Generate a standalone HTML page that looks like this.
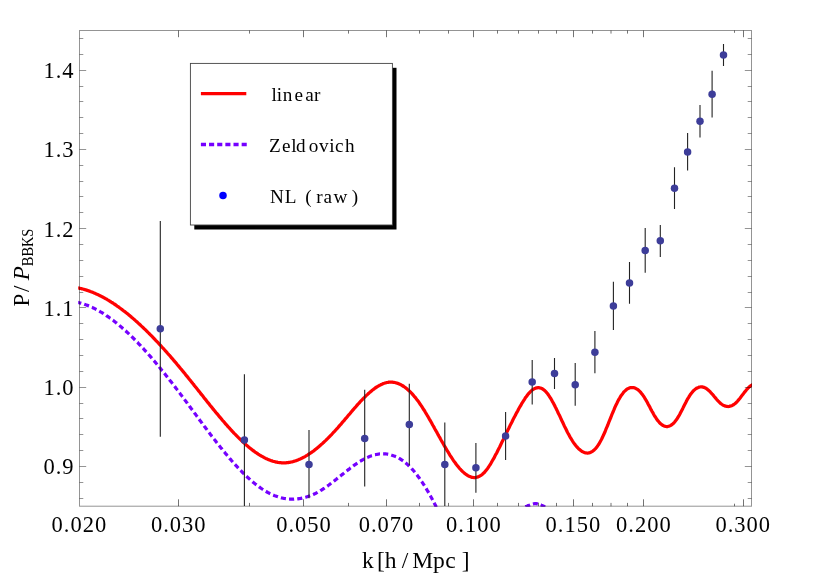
<!DOCTYPE html>
<html><head><meta charset="utf-8"><title>P/P_BBKS</title>
<style>
html,body{margin:0;padding:0;background:#fff;}
body{width:817px;height:580px;overflow:hidden;font-family:"Liberation Serif",serif;}
svg{display:block;will-change:transform;opacity:0.999;}
text{font-family:"Liberation Serif",serif;fill:#000;}
</style></head><body>
<svg width="817" height="580" viewBox="0 0 817 580">
<rect x="0" y="0" width="817" height="580" fill="#fff"/>
<defs><clipPath id="cp"><rect x="78.2" y="29.8" width="673.8" height="476.9"/></clipPath></defs>

<g clip-path="url(#cp)" fill="none">
<path d="M77.5,287.8 L78.2,288.0 L79.0,288.1 L79.8,288.3 L80.5,288.5 L81.2,288.6 L82.0,288.8 L82.8,289.0 L83.5,289.2 L84.2,289.4 L85.0,289.7 L85.8,289.9 L86.5,290.1 L87.2,290.4 L88.0,290.6 L88.8,290.9 L89.5,291.1 L90.2,291.4 L91.0,291.7 L91.8,292.0 L92.5,292.3 L93.2,292.6 L94.0,292.9 L94.8,293.2 L95.5,293.6 L96.2,293.9 L97.0,294.2 L97.8,294.6 L98.5,294.9 L99.2,295.3 L100.0,295.7 L100.8,296.1 L101.5,296.4 L102.2,296.8 L103.0,297.2 L103.8,297.6 L104.5,298.0 L105.2,298.5 L106.0,298.9 L106.8,299.3 L107.5,299.8 L108.2,300.2 L109.0,300.7 L109.8,301.1 L110.5,301.6 L111.2,302.1 L112.0,302.5 L112.8,303.0 L113.5,303.5 L114.2,304.0 L115.0,304.5 L115.8,305.0 L116.5,305.6 L117.2,306.1 L118.0,306.6 L118.8,307.1 L119.5,307.7 L120.2,308.2 L121.0,308.8 L121.8,309.3 L122.5,309.9 L123.2,310.5 L124.0,311.1 L124.8,311.6 L125.5,312.2 L126.2,312.8 L127.0,313.4 L127.8,314.0 L128.5,314.6 L129.2,315.3 L130.0,315.9 L130.8,316.5 L131.5,317.2 L132.2,317.8 L133.0,318.4 L133.8,319.1 L134.5,319.7 L135.2,320.4 L136.0,321.1 L136.8,321.7 L137.5,322.4 L138.2,323.1 L139.0,323.8 L139.8,324.5 L140.5,325.2 L141.2,325.9 L142.0,326.6 L142.8,327.3 L143.5,328.0 L144.2,328.7 L145.0,329.4 L145.8,330.2 L146.5,330.9 L147.2,331.6 L148.0,332.4 L148.8,333.1 L149.5,333.9 L150.2,334.6 L151.0,335.4 L151.8,336.2 L152.5,336.9 L153.2,337.7 L154.0,338.5 L154.8,339.3 L155.5,340.1 L156.2,340.8 L157.0,341.6 L157.8,342.4 L158.5,343.2 L159.2,344.1 L160.0,344.9 L160.8,345.7 L161.5,346.5 L162.2,347.3 L163.0,348.1 L163.8,349.0 L164.5,349.8 L165.2,350.6 L166.0,351.5 L166.8,352.3 L167.5,353.2 L168.2,354.0 L169.0,354.9 L169.8,355.7 L170.5,356.6 L171.2,357.5 L172.0,358.3 L172.8,359.2 L173.5,360.1 L174.2,360.9 L175.0,361.8 L175.8,362.7 L176.5,363.6 L177.2,364.5 L178.0,365.4 L178.8,366.3 L179.5,367.2 L180.2,368.1 L181.0,369.0 L181.8,369.9 L182.5,370.8 L183.2,371.7 L184.0,372.6 L184.8,373.5 L185.5,374.5 L186.2,375.4 L187.0,376.3 L187.8,377.2 L188.5,378.2 L189.2,379.1 L190.0,380.0 L190.8,381.0 L191.5,381.9 L192.2,382.8 L193.0,383.8 L193.8,384.7 L194.5,385.7 L195.2,386.6 L196.0,387.5 L196.8,388.5 L197.5,389.4 L198.2,390.4 L199.0,391.3 L199.8,392.3 L200.5,393.2 L201.2,394.2 L202.0,395.1 L202.8,396.1 L203.5,397.0 L204.2,397.9 L205.0,398.9 L205.8,399.8 L206.5,400.8 L207.2,401.7 L208.0,402.7 L208.8,403.6 L209.5,404.5 L210.2,405.5 L211.0,406.4 L211.8,407.3 L212.5,408.2 L213.2,409.2 L214.0,410.1 L214.8,411.0 L215.5,411.9 L216.2,412.8 L217.0,413.7 L217.8,414.6 L218.5,415.5 L219.2,416.4 L220.0,417.3 L220.8,418.2 L221.5,419.1 L222.2,420.0 L223.0,420.9 L223.8,421.7 L224.5,422.6 L225.2,423.5 L226.0,424.3 L226.8,425.2 L227.5,426.0 L228.2,426.9 L229.0,427.7 L229.8,428.5 L230.5,429.3 L231.2,430.2 L232.0,431.0 L232.8,431.8 L233.5,432.6 L234.2,433.4 L235.0,434.1 L235.8,434.9 L236.5,435.7 L237.2,436.4 L238.0,437.2 L238.8,437.9 L239.5,438.7 L240.2,439.4 L241.0,440.1 L241.8,440.9 L242.5,441.6 L243.2,442.3 L244.0,442.9 L244.8,443.6 L245.5,444.3 L246.2,444.9 L247.0,445.6 L247.8,446.2 L248.5,446.9 L249.2,447.5 L250.0,448.1 L250.8,448.7 L251.5,449.3 L252.2,449.9 L253.0,450.5 L253.8,451.0 L254.5,451.6 L255.2,452.1 L256.0,452.6 L256.8,453.1 L257.5,453.6 L258.2,454.1 L259.0,454.6 L259.8,455.1 L260.5,455.5 L261.2,456.0 L262.0,456.4 L262.8,456.8 L263.5,457.2 L264.2,457.6 L265.0,458.0 L265.8,458.4 L266.5,458.7 L267.2,459.1 L268.0,459.4 L268.8,459.7 L269.5,460.0 L270.2,460.3 L271.0,460.6 L271.8,460.8 L272.5,461.1 L273.2,461.3 L274.0,461.5 L274.8,461.7 L275.5,461.9 L276.2,462.1 L277.0,462.2 L277.8,462.4 L278.5,462.5 L279.2,462.6 L280.0,462.7 L280.8,462.7 L281.5,462.8 L282.2,462.8 L283.0,462.9 L283.8,462.9 L284.5,462.9 L285.2,462.8 L286.0,462.8 L286.8,462.7 L287.5,462.7 L288.2,462.6 L289.0,462.4 L289.8,462.3 L290.5,462.2 L291.2,462.0 L292.0,461.9 L292.8,461.7 L293.5,461.5 L294.2,461.2 L295.0,461.0 L295.8,460.8 L296.5,460.5 L297.2,460.2 L298.0,459.9 L298.8,459.6 L299.5,459.3 L300.2,459.0 L301.0,458.6 L301.8,458.3 L302.5,457.9 L303.2,457.5 L304.0,457.1 L304.8,456.7 L305.5,456.3 L306.2,455.8 L307.0,455.4 L307.8,454.9 L308.5,454.4 L309.2,453.9 L310.0,453.4 L310.8,452.9 L311.5,452.4 L312.2,451.9 L313.0,451.3 L313.8,450.8 L314.5,450.2 L315.2,449.6 L316.0,449.0 L316.8,448.4 L317.5,447.8 L318.2,447.2 L319.0,446.5 L319.8,445.9 L320.5,445.2 L321.2,444.6 L322.0,443.9 L322.8,443.2 L323.5,442.5 L324.2,441.8 L325.0,441.1 L325.8,440.4 L326.5,439.7 L327.2,438.9 L328.0,438.2 L328.8,437.4 L329.5,436.7 L330.2,435.9 L331.0,435.1 L331.8,434.3 L332.5,433.5 L333.2,432.7 L334.0,431.9 L334.8,431.1 L335.5,430.3 L336.2,429.5 L337.0,428.6 L337.8,427.8 L338.5,426.9 L339.2,426.1 L340.0,425.2 L340.8,424.4 L341.5,423.5 L342.2,422.6 L343.0,421.7 L343.8,420.9 L344.5,420.0 L345.2,419.1 L346.0,418.2 L346.8,417.3 L347.5,416.4 L348.2,415.5 L349.0,414.6 L349.8,413.8 L350.5,412.9 L351.2,412.0 L352.0,411.1 L352.8,410.2 L353.5,409.4 L354.2,408.5 L355.0,407.6 L355.8,406.8 L356.5,405.9 L357.2,405.1 L358.0,404.2 L358.8,403.4 L359.5,402.6 L360.2,401.8 L361.0,400.9 L361.8,400.1 L362.5,399.4 L363.2,398.6 L364.0,397.8 L364.8,397.1 L365.5,396.3 L366.2,395.6 L367.0,394.9 L367.8,394.2 L368.5,393.5 L369.2,392.8 L370.0,392.2 L370.8,391.5 L371.5,390.9 L372.2,390.3 L373.0,389.7 L373.8,389.1 L374.5,388.6 L375.2,388.0 L376.0,387.5 L376.8,387.0 L377.5,386.5 L378.2,386.1 L379.0,385.7 L379.8,385.2 L380.5,384.9 L381.2,384.5 L382.0,384.2 L382.8,383.8 L383.5,383.5 L384.2,383.3 L385.0,383.0 L385.8,382.8 L386.5,382.6 L387.2,382.5 L388.0,382.4 L388.8,382.2 L389.5,382.2 L390.2,382.1 L391.0,382.1 L391.8,382.1 L392.5,382.2 L393.2,382.3 L394.0,382.4 L394.8,382.5 L395.5,382.7 L396.2,382.9 L397.0,383.1 L397.8,383.4 L398.5,383.6 L399.2,384.0 L400.0,384.3 L400.8,384.7 L401.5,385.1 L402.2,385.5 L403.0,386.0 L403.8,386.5 L404.5,387.0 L405.2,387.5 L406.0,388.1 L406.8,388.7 L407.5,389.4 L408.2,390.0 L409.0,390.7 L409.8,391.4 L410.5,392.2 L411.2,392.9 L412.0,393.7 L412.8,394.6 L413.5,395.4 L414.2,396.3 L415.0,397.2 L415.8,398.1 L416.5,399.1 L417.2,400.1 L418.0,401.1 L418.8,402.1 L419.5,403.2 L420.2,404.3 L421.0,405.4 L421.8,406.5 L422.5,407.7 L423.2,408.8 L424.0,410.0 L424.8,411.2 L425.5,412.5 L426.2,413.7 L427.0,415.0 L427.8,416.3 L428.5,417.5 L429.2,418.8 L430.0,420.1 L430.8,421.5 L431.5,422.8 L432.2,424.1 L433.0,425.5 L433.8,426.8 L434.5,428.2 L435.2,429.5 L436.0,430.9 L436.8,432.2 L437.5,433.6 L438.2,434.9 L439.0,436.3 L439.8,437.6 L440.5,439.0 L441.2,440.3 L442.0,441.7 L442.8,443.0 L443.5,444.3 L444.2,445.6 L445.0,446.9 L445.8,448.2 L446.5,449.4 L447.2,450.7 L448.0,451.9 L448.8,453.2 L449.5,454.4 L450.2,455.6 L451.0,456.7 L451.8,457.9 L452.5,459.0 L453.2,460.1 L454.0,461.2 L454.8,462.2 L455.5,463.3 L456.2,464.3 L457.0,465.3 L457.8,466.2 L458.5,467.1 L459.2,468.0 L460.0,468.9 L460.8,469.7 L461.5,470.5 L462.2,471.2 L463.0,471.9 L463.8,472.6 L464.5,473.2 L465.2,473.8 L466.0,474.4 L466.8,474.9 L467.5,475.4 L468.2,475.8 L469.0,476.2 L469.8,476.5 L470.5,476.8 L471.2,477.1 L472.0,477.3 L472.8,477.4 L473.5,477.5 L474.2,477.5 L475.0,477.5 L475.8,477.5 L476.5,477.3 L477.2,477.1 L478.0,476.9 L478.8,476.6 L479.5,476.3 L480.2,475.8 L481.0,475.4 L481.8,474.8 L482.5,474.2 L483.2,473.5 L484.0,472.8 L484.8,472.0 L485.5,471.1 L486.2,470.2 L487.0,469.2 L487.8,468.2 L488.5,467.1 L489.2,466.0 L490.0,464.8 L490.8,463.6 L491.5,462.3 L492.2,461.0 L493.0,459.7 L493.8,458.4 L494.5,457.0 L495.2,455.6 L496.0,454.1 L496.8,452.7 L497.5,451.2 L498.2,449.7 L499.0,448.2 L499.8,446.7 L500.5,445.2 L501.2,443.7 L502.0,442.1 L502.8,440.6 L503.5,439.1 L504.2,437.5 L505.0,436.0 L505.8,434.4 L506.5,432.9 L507.2,431.4 L508.0,429.8 L508.8,428.3 L509.5,426.8 L510.2,425.2 L511.0,423.7 L511.8,422.2 L512.5,420.7 L513.2,419.3 L514.0,417.8 L514.8,416.3 L515.5,414.9 L516.2,413.5 L517.0,412.1 L517.8,410.7 L518.5,409.3 L519.2,408.0 L520.0,406.7 L520.8,405.4 L521.5,404.1 L522.2,402.8 L523.0,401.6 L523.8,400.4 L524.5,399.3 L525.2,398.1 L526.0,397.1 L526.8,396.0 L527.5,395.0 L528.2,394.1 L529.0,393.2 L529.8,392.3 L530.5,391.6 L531.2,390.9 L532.0,390.2 L532.8,389.7 L533.5,389.2 L534.2,388.7 L535.0,388.4 L535.8,388.1 L536.5,387.9 L537.2,387.8 L538.0,387.7 L538.8,387.7 L539.5,387.8 L540.2,388.0 L541.0,388.2 L541.8,388.5 L542.5,388.9 L543.2,389.4 L544.0,390.0 L544.8,390.6 L545.5,391.3 L546.2,392.1 L547.0,393.0 L547.8,394.0 L548.5,395.0 L549.2,396.1 L550.0,397.3 L550.8,398.5 L551.5,399.8 L552.2,401.1 L553.0,402.5 L553.8,403.9 L554.5,405.3 L555.2,406.8 L556.0,408.3 L556.8,409.9 L557.5,411.4 L558.2,413.0 L559.0,414.6 L559.8,416.1 L560.5,417.7 L561.2,419.3 L562.0,420.9 L562.8,422.5 L563.5,424.1 L564.2,425.7 L565.0,427.2 L565.8,428.7 L566.5,430.2 L567.2,431.7 L568.0,433.2 L568.8,434.6 L569.5,435.9 L570.2,437.3 L571.0,438.5 L571.8,439.8 L572.5,441.0 L573.2,442.1 L574.0,443.2 L574.8,444.2 L575.5,445.2 L576.2,446.1 L577.0,447.0 L577.8,447.8 L578.5,448.6 L579.2,449.3 L580.0,449.9 L580.8,450.5 L581.5,451.1 L582.2,451.5 L583.0,451.9 L583.8,452.3 L584.5,452.6 L585.2,452.8 L586.0,452.9 L586.8,453.0 L587.5,453.0 L588.2,453.0 L589.0,452.8 L589.8,452.6 L590.5,452.4 L591.2,452.0 L592.0,451.6 L592.8,451.1 L593.5,450.5 L594.2,449.9 L595.0,449.1 L595.8,448.3 L596.5,447.4 L597.2,446.5 L598.0,445.4 L598.8,444.3 L599.5,443.0 L600.2,441.7 L601.0,440.3 L601.8,438.8 L602.5,437.3 L603.2,435.7 L604.0,434.0 L604.8,432.3 L605.5,430.5 L606.2,428.7 L607.0,426.9 L607.8,425.0 L608.5,423.2 L609.2,421.3 L610.0,419.4 L610.8,417.5 L611.5,415.7 L612.2,413.8 L613.0,412.0 L613.8,410.2 L614.5,408.4 L615.2,406.7 L616.0,405.1 L616.8,403.5 L617.5,401.9 L618.2,400.5 L619.0,399.1 L619.8,397.8 L620.5,396.6 L621.2,395.4 L622.0,394.4 L622.8,393.4 L623.5,392.4 L624.2,391.6 L625.0,390.9 L625.8,390.2 L626.5,389.6 L627.2,389.0 L628.0,388.6 L628.8,388.2 L629.5,387.9 L630.2,387.7 L631.0,387.6 L631.8,387.5 L632.5,387.5 L633.2,387.6 L634.0,387.7 L634.8,388.0 L635.5,388.3 L636.2,388.7 L637.0,389.1 L637.8,389.6 L638.5,390.2 L639.2,390.9 L640.0,391.7 L640.8,392.5 L641.5,393.4 L642.2,394.3 L643.0,395.4 L643.8,396.5 L644.5,397.6 L645.2,398.9 L646.0,400.1 L646.8,401.5 L647.5,402.8 L648.2,404.2 L649.0,405.6 L649.8,407.0 L650.5,408.5 L651.2,409.9 L652.0,411.3 L652.8,412.6 L653.5,414.0 L654.2,415.3 L655.0,416.5 L655.8,417.7 L656.5,418.8 L657.2,419.9 L658.0,420.8 L658.8,421.8 L659.5,422.6 L660.2,423.4 L661.0,424.0 L661.8,424.6 L662.5,425.1 L663.2,425.6 L664.0,425.9 L664.8,426.2 L665.5,426.4 L666.2,426.5 L667.0,426.5 L667.8,426.5 L668.5,426.3 L669.2,426.1 L670.0,425.8 L670.8,425.4 L671.5,424.9 L672.2,424.4 L673.0,423.7 L673.8,423.0 L674.5,422.2 L675.2,421.3 L676.0,420.3 L676.8,419.3 L677.5,418.1 L678.2,416.9 L679.0,415.6 L679.8,414.2 L680.5,412.8 L681.2,411.4 L682.0,409.9 L682.8,408.4 L683.5,406.9 L684.2,405.5 L685.0,404.0 L685.8,402.5 L686.5,401.1 L687.2,399.7 L688.0,398.4 L688.8,397.1 L689.5,395.9 L690.2,394.8 L691.0,393.7 L691.8,392.7 L692.5,391.9 L693.2,391.0 L694.0,390.3 L694.8,389.6 L695.5,389.0 L696.2,388.5 L697.0,388.0 L697.8,387.7 L698.5,387.4 L699.2,387.1 L700.0,387.0 L700.8,386.9 L701.5,386.9 L702.2,386.9 L703.0,387.1 L703.8,387.3 L704.5,387.6 L705.2,387.9 L706.0,388.3 L706.8,388.8 L707.5,389.4 L708.2,390.0 L709.0,390.7 L709.8,391.4 L710.5,392.2 L711.2,393.0 L712.0,393.9 L712.8,394.7 L713.5,395.6 L714.2,396.5 L715.0,397.4 L715.8,398.3 L716.5,399.2 L717.2,400.0 L718.0,400.9 L718.8,401.7 L719.5,402.4 L720.2,403.1 L721.0,403.7 L721.8,404.3 L722.5,404.8 L723.2,405.2 L724.0,405.6 L724.8,405.9 L725.5,406.1 L726.2,406.3 L727.0,406.4 L727.8,406.5 L728.5,406.5 L729.2,406.4 L730.0,406.2 L730.8,406.0 L731.5,405.7 L732.2,405.4 L733.0,405.0 L733.8,404.5 L734.5,404.0 L735.2,403.4 L736.0,402.7 L736.8,402.0 L737.5,401.2 L738.2,400.3 L739.0,399.4 L739.8,398.5 L740.5,397.6 L741.2,396.6 L742.0,395.6 L742.8,394.6 L743.5,393.6 L744.2,392.6 L745.0,391.7 L745.8,390.7 L746.5,389.8 L747.2,389.0 L748.0,388.2 L748.8,387.4 L749.5,386.7 L750.2,386.1 L751.0,385.6 L751.8,385.1 L752.5,384.8" stroke="#ff0000" stroke-width="3.25" stroke-linejoin="round"/>
<path d="M77.6,302.3 L78.3,302.5 L79.1,302.7 L79.8,302.9 L80.6,303.1 L81.3,303.3 L82.1,303.5 L82.8,303.8 L83.6,304.0 L84.3,304.3 L85.1,304.5 L85.8,304.8 L86.6,305.1 L87.3,305.4 L88.1,305.6 L88.8,306.0 L89.6,306.3 L90.3,306.6 L91.1,306.9 L91.8,307.3 L92.6,307.6 L93.3,308.0 L94.1,308.3 L94.8,308.7 L95.6,309.1 L96.3,309.5 L97.1,309.9 L97.8,310.3 L98.6,310.7 L99.3,311.1 L100.1,311.6 L100.8,312.0 L101.6,312.5 L102.3,312.9 L103.1,313.4 L103.8,313.9 L104.6,314.4 L105.3,314.8 L106.1,315.3 L106.8,315.9 L107.6,316.4 L108.3,316.9 L109.1,317.4 L109.8,318.0 L110.6,318.5 L111.3,319.0 L112.1,319.6 L112.8,320.2 L113.6,320.7 L114.3,321.3 L115.1,321.9 L115.8,322.5 L116.6,323.1 L117.3,323.7 L118.1,324.3 L118.8,324.9 L119.6,325.6 L120.3,326.2 L121.1,326.9 L121.8,327.5 L122.6,328.2 L123.3,328.8 L124.1,329.5 L124.8,330.2 L125.6,330.8 L126.3,331.5 L127.1,332.2 L127.8,332.9 L128.6,333.6 L129.3,334.3 L130.1,335.1 L130.8,335.8 L131.6,336.5 L132.3,337.2 L133.1,338.0 L133.8,338.7 L134.6,339.5 L135.3,340.2 L136.1,341.0 L136.8,341.8 L137.6,342.5 L138.3,343.3 L139.1,344.1 L139.8,344.9 L140.6,345.7 L141.3,346.5 L142.1,347.3 L142.8,348.1 L143.6,348.9 L144.3,349.7 L145.1,350.6 L145.8,351.4 L146.6,352.2 L147.3,353.1 L148.1,353.9 L148.8,354.8 L149.6,355.6 L150.3,356.5 L151.1,357.3 L151.8,358.2 L152.6,359.1 L153.3,360.0 L154.1,360.8 L154.8,361.7 L155.6,362.6 L156.3,363.5 L157.1,364.4 L157.8,365.3 L158.6,366.2 L159.3,367.1 L160.1,368.0 L160.8,368.9 L161.6,369.9 L162.3,370.8 L163.1,371.7 L163.8,372.6 L164.6,373.6 L165.3,374.5 L166.1,375.5 L166.8,376.4 L167.6,377.3 L168.3,378.3 L169.1,379.2 L169.8,380.2 L170.6,381.2 L171.3,382.1 L172.1,383.1 L172.8,384.1 L173.6,385.0 L174.3,386.0 L175.1,387.0 L175.8,388.0 L176.6,388.9 L177.3,389.9 L178.1,390.9 L178.8,391.9 L179.6,392.9 L180.3,393.9 L181.1,394.9 L181.8,395.9 L182.6,396.9 L183.3,397.9 L184.1,398.9 L184.8,399.9 L185.6,400.9 L186.3,401.9 L187.1,402.9 L187.8,403.9 L188.6,404.9 L189.3,406.0 L190.1,407.0 L190.8,408.0 L191.6,409.0 L192.3,410.0 L193.1,411.0 L193.8,412.0 L194.6,413.1 L195.3,414.1 L196.1,415.1 L196.8,416.1 L197.6,417.1 L198.3,418.1 L199.1,419.2 L199.8,420.2 L200.6,421.2 L201.3,422.2 L202.1,423.2 L202.8,424.2 L203.6,425.2 L204.3,426.2 L205.1,427.2 L205.8,428.2 L206.6,429.2 L207.3,430.2 L208.1,431.2 L208.8,432.2 L209.6,433.2 L210.3,434.2 L211.1,435.2 L211.8,436.2 L212.6,437.1 L213.3,438.1 L214.1,439.1 L214.8,440.1 L215.6,441.0 L216.3,442.0 L217.1,443.0 L217.8,443.9 L218.6,444.9 L219.3,445.8 L220.1,446.8 L220.8,447.7 L221.6,448.6 L222.3,449.6 L223.1,450.5 L223.8,451.4 L224.6,452.3 L225.3,453.2 L226.1,454.1 L226.8,455.0 L227.6,455.9 L228.3,456.8 L229.1,457.7 L229.8,458.6 L230.6,459.4 L231.3,460.3 L232.1,461.2 L232.8,462.0 L233.6,462.9 L234.3,463.7 L235.1,464.5 L235.8,465.4 L236.6,466.2 L237.3,467.0 L238.1,467.8 L238.8,468.6 L239.6,469.4 L240.3,470.2 L241.1,470.9 L241.8,471.7 L242.6,472.5 L243.3,473.2 L244.1,474.0 L244.8,474.7 L245.6,475.4 L246.3,476.1 L247.1,476.8 L247.8,477.5 L248.6,478.2 L249.3,478.9 L250.1,479.6 L250.8,480.3 L251.6,480.9 L252.3,481.5 L253.1,482.2 L253.8,482.8 L254.6,483.4 L255.3,484.0 L256.1,484.6 L256.9,485.2 L257.6,485.8 L258.4,486.3 L259.1,486.9 L259.9,487.4 L260.6,488.0 L261.4,488.5 L262.1,489.0 L262.9,489.5 L263.6,490.0 L264.4,490.4 L265.1,490.9 L265.9,491.3 L266.6,491.8 L267.4,492.2 L268.1,492.6 L268.9,493.0 L269.6,493.4 L270.4,493.8 L271.1,494.1 L271.9,494.5 L272.6,494.8 L273.4,495.1 L274.1,495.5 L274.9,495.8 L275.6,496.0 L276.4,496.3 L277.1,496.6 L277.9,496.8 L278.6,497.1 L279.4,497.3 L280.1,497.5 L280.9,497.7 L281.6,497.9 L282.4,498.0 L283.1,498.2 L283.9,498.4 L284.6,498.5 L285.4,498.6 L286.1,498.7 L286.9,498.8 L287.6,498.9 L288.4,499.0 L289.1,499.0 L289.9,499.1 L290.6,499.1 L291.4,499.2 L292.1,499.2 L292.9,499.2 L293.6,499.2 L294.4,499.1 L295.1,499.1 L295.9,499.0 L296.6,499.0 L297.4,498.9 L298.1,498.8 L298.9,498.7 L299.6,498.6 L300.4,498.5 L301.1,498.3 L301.9,498.2 L302.6,498.0 L303.4,497.9 L304.1,497.7 L304.9,497.5 L305.6,497.3 L306.4,497.1 L307.1,496.8 L307.9,496.6 L308.6,496.3 L309.4,496.0 L310.1,495.8 L310.9,495.5 L311.6,495.2 L312.4,494.8 L313.1,494.5 L313.9,494.2 L314.6,493.8 L315.4,493.5 L316.1,493.1 L316.9,492.7 L317.6,492.3 L318.4,491.9 L319.1,491.4 L319.9,491.0 L320.6,490.5 L321.4,490.1 L322.1,489.6 L322.9,489.1 L323.6,488.6 L324.4,488.1 L325.1,487.6 L325.9,487.1 L326.6,486.6 L327.4,486.1 L328.1,485.5 L328.9,485.0 L329.6,484.4 L330.4,483.8 L331.1,483.3 L331.9,482.7 L332.6,482.1 L333.4,481.5 L334.1,481.0 L334.9,480.4 L335.6,479.8 L336.4,479.2 L337.1,478.6 L337.9,478.0 L338.6,477.4 L339.4,476.8 L340.1,476.2 L340.9,475.6 L341.6,475.0 L342.4,474.4 L343.1,473.8 L343.9,473.2 L344.6,472.6 L345.4,472.0 L346.1,471.4 L346.9,470.8 L347.6,470.2 L348.4,469.6 L349.1,469.1 L349.9,468.5 L350.6,467.9 L351.4,467.4 L352.1,466.8 L352.9,466.2 L353.6,465.7 L354.4,465.2 L355.1,464.6 L355.9,464.1 L356.6,463.6 L357.4,463.1 L358.1,462.6 L358.9,462.1 L359.6,461.6 L360.4,461.2 L361.1,460.7 L361.9,460.3 L362.6,459.8 L363.4,459.4 L364.1,459.0 L364.9,458.6 L365.6,458.2 L366.4,457.9 L367.1,457.5 L367.9,457.2 L368.6,456.9 L369.4,456.6 L370.1,456.3 L370.9,456.0 L371.6,455.7 L372.4,455.5 L373.1,455.3 L373.9,455.0 L374.6,454.8 L375.4,454.7 L376.1,454.5 L376.9,454.4 L377.6,454.2 L378.4,454.1 L379.1,454.0 L379.9,453.9 L380.6,453.9 L381.4,453.8 L382.1,453.8 L382.9,453.8 L383.6,453.8 L384.4,453.8 L385.1,453.9 L385.9,453.9 L386.6,454.0 L387.4,454.1 L388.1,454.3 L388.9,454.4 L389.6,454.6 L390.4,454.7 L391.1,454.9 L391.9,455.2 L392.6,455.4 L393.4,455.7 L394.1,455.9 L394.9,456.2 L395.6,456.6 L396.4,456.9 L397.1,457.3 L397.9,457.6 L398.6,458.0 L399.4,458.5 L400.1,458.9 L400.9,459.4 L401.6,459.9 L402.4,460.4 L403.1,460.9 L403.9,461.5 L404.6,462.1 L405.4,462.7 L406.1,463.3 L406.9,463.9 L407.6,464.6 L408.4,465.3 L409.1,466.0 L409.9,466.8 L410.6,467.5 L411.4,468.3 L412.1,469.1 L412.9,470.0 L413.6,470.8 L414.4,471.7 L415.1,472.6 L415.9,473.6 L416.6,474.5 L417.4,475.5 L418.1,476.5 L418.9,477.5 L419.6,478.5 L420.4,479.6 L421.1,480.7 L421.9,481.8 L422.6,482.9 L423.4,484.1 L424.1,485.2 L424.9,486.4 L425.6,487.6 L426.4,488.9 L427.1,490.1 L427.9,491.4 L428.6,492.7 L429.4,494.0 L430.1,495.4 L430.9,496.7 L431.6,498.1 L432.4,499.5 L433.1,500.9 L433.9,502.4 L434.6,503.8 L435.4,505.3 L436.1,506.8 L436.9,508.3 L437.6,509.8 L438.4,511.4 L439.1,513.0 L439.9,514.6 L440.6,516.2" stroke="#7500ff" stroke-width="3.2" stroke-dasharray="5.1 3.14" stroke-dashoffset="1.3"/>
<path d="M522.8,508.1 L523.5,507.6 L524.3,507.1 L525.0,506.8 L525.8,506.4 L526.5,506.2 L527.3,505.9 L528.0,505.6 L528.8,505.4 L529.5,505.2 L530.3,504.9 L531.0,504.6 L531.8,504.4 L532.5,504.1 L533.3,503.9 L534.0,503.7 L534.8,503.6 L535.5,503.6 L536.3,503.7 L537.0,503.8 L537.8,503.9 L538.5,504.2 L539.3,504.4 L540.0,504.6 L540.8,504.9 L541.5,505.2 L542.3,505.5 L543.0,505.9 L543.8,506.2 L544.5,506.6 L545.3,507.0 L546.0,507.4 L546.8,507.8 L547.5,508.2" stroke="#7500ff" stroke-width="3.2" stroke-dasharray="5 3" stroke-dashoffset="5.0"/>
<line x1="160.3" y1="220.9" x2="160.3" y2="436.8" stroke="#222" stroke-width="1.1"/>
<line x1="244.4" y1="374.3" x2="244.4" y2="506" stroke="#222" stroke-width="1.1"/>
<line x1="309" y1="430.1" x2="309" y2="498.3" stroke="#222" stroke-width="1.1"/>
<line x1="364.7" y1="389.7" x2="364.7" y2="486.5" stroke="#222" stroke-width="1.1"/>
<line x1="409.3" y1="383.8" x2="409.3" y2="465.3" stroke="#222" stroke-width="1.1"/>
<line x1="444.8" y1="422.5" x2="444.8" y2="506" stroke="#222" stroke-width="1.1"/>
<line x1="475.9" y1="443.1" x2="475.9" y2="492.7" stroke="#222" stroke-width="1.1"/>
<line x1="505.6" y1="412.1" x2="505.6" y2="459.9" stroke="#222" stroke-width="1.1"/>
<line x1="532.2" y1="360" x2="532.2" y2="404.6" stroke="#222" stroke-width="1.1"/>
<line x1="554.5" y1="358.1" x2="554.5" y2="388.9" stroke="#222" stroke-width="1.1"/>
<line x1="575.2" y1="363" x2="575.2" y2="405.8" stroke="#222" stroke-width="1.1"/>
<line x1="594.9" y1="330.9" x2="594.9" y2="373.2" stroke="#222" stroke-width="1.1"/>
<line x1="613.4" y1="281.7" x2="613.4" y2="330" stroke="#222" stroke-width="1.1"/>
<line x1="629.5" y1="262" x2="629.5" y2="303.8" stroke="#222" stroke-width="1.1"/>
<line x1="645.2" y1="228" x2="645.2" y2="272.8" stroke="#222" stroke-width="1.1"/>
<line x1="660.3" y1="225" x2="660.3" y2="256.9" stroke="#222" stroke-width="1.1"/>
<line x1="674.5" y1="167.2" x2="674.5" y2="208.9" stroke="#222" stroke-width="1.1"/>
<line x1="687.6" y1="132.9" x2="687.6" y2="170.6" stroke="#222" stroke-width="1.1"/>
<line x1="700" y1="105.1" x2="700" y2="137.4" stroke="#222" stroke-width="1.1"/>
<line x1="712.1" y1="70.8" x2="712.1" y2="117.6" stroke="#222" stroke-width="1.1"/>
<line x1="723.5" y1="44.1" x2="723.5" y2="65.9" stroke="#222" stroke-width="1.1"/>
<circle cx="160.3" cy="328.8" r="3.75" fill="#3d3d99"/>
<circle cx="244.4" cy="439.9" r="3.75" fill="#3d3d99"/>
<circle cx="309" cy="464.5" r="3.75" fill="#3d3d99"/>
<circle cx="364.7" cy="438.4" r="3.75" fill="#3d3d99"/>
<circle cx="409.3" cy="424.5" r="3.75" fill="#3d3d99"/>
<circle cx="444.8" cy="464.6" r="3.75" fill="#3d3d99"/>
<circle cx="475.9" cy="467.7" r="3.75" fill="#3d3d99"/>
<circle cx="505.6" cy="436.1" r="3.75" fill="#3d3d99"/>
<circle cx="532.2" cy="382.1" r="3.75" fill="#3d3d99"/>
<circle cx="554.5" cy="373.4" r="3.75" fill="#3d3d99"/>
<circle cx="575.2" cy="384.7" r="3.75" fill="#3d3d99"/>
<circle cx="594.9" cy="352.2" r="3.75" fill="#3d3d99"/>
<circle cx="613.4" cy="306" r="3.75" fill="#3d3d99"/>
<circle cx="629.5" cy="283" r="3.75" fill="#3d3d99"/>
<circle cx="645.2" cy="250.6" r="3.75" fill="#3d3d99"/>
<circle cx="660.3" cy="240.8" r="3.75" fill="#3d3d99"/>
<circle cx="674.5" cy="188.2" r="3.75" fill="#3d3d99"/>
<circle cx="687.6" cy="151.9" r="3.75" fill="#3d3d99"/>
<circle cx="700" cy="121.3" r="3.75" fill="#3d3d99"/>
<circle cx="712.1" cy="94.2" r="3.75" fill="#3d3d99"/>
<circle cx="723.5" cy="54.9" r="3.75" fill="#3d3d99"/>
</g>
<g stroke="#000" stroke-opacity="0.42" stroke-width="1" fill="none">
<rect x="79.5" y="30.5" width="672.0" height="475.7"/>
<g stroke-opacity="0.55">
<line x1="178.5" y1="506.2" x2="178.5" y2="499.3"/><line x1="178.5" y1="30.5" x2="178.5" y2="37.2"/>
<line x1="303.5" y1="506.2" x2="303.5" y2="499.3"/><line x1="303.5" y1="30.5" x2="303.5" y2="37.2"/>
<line x1="386.5" y1="506.2" x2="386.5" y2="499.3"/><line x1="386.5" y1="30.5" x2="386.5" y2="37.2"/>
<line x1="473.5" y1="506.2" x2="473.5" y2="499.3"/><line x1="473.5" y1="30.5" x2="473.5" y2="37.2"/>
<line x1="573.5" y1="506.2" x2="573.5" y2="499.3"/><line x1="573.5" y1="30.5" x2="573.5" y2="37.2"/>
<line x1="643.5" y1="506.2" x2="643.5" y2="499.3"/><line x1="643.5" y1="30.5" x2="643.5" y2="37.2"/>
<line x1="743.5" y1="506.2" x2="743.5" y2="499.3"/><line x1="743.5" y1="30.5" x2="743.5" y2="37.2"/>
<line x1="249.5" y1="506.2" x2="249.5" y2="502.9"/><line x1="249.5" y1="30.5" x2="249.5" y2="33.6"/>
<line x1="348.5" y1="506.2" x2="348.5" y2="502.9"/><line x1="348.5" y1="30.5" x2="348.5" y2="33.6"/>
<line x1="419.5" y1="506.2" x2="419.5" y2="502.9"/><line x1="419.5" y1="30.5" x2="419.5" y2="33.6"/>
<line x1="448.5" y1="506.2" x2="448.5" y2="502.9"/><line x1="448.5" y1="30.5" x2="448.5" y2="33.6"/>
<line x1="497.5" y1="506.2" x2="497.5" y2="502.9"/><line x1="497.5" y1="30.5" x2="497.5" y2="33.6"/>
<line x1="518.5" y1="506.2" x2="518.5" y2="502.9"/><line x1="518.5" y1="30.5" x2="518.5" y2="33.6"/>
<line x1="538.5" y1="506.2" x2="538.5" y2="502.9"/><line x1="538.5" y1="30.5" x2="538.5" y2="33.6"/>
<line x1="556.5" y1="506.2" x2="556.5" y2="502.9"/><line x1="556.5" y1="30.5" x2="556.5" y2="33.6"/>
<line x1="592.5" y1="506.2" x2="592.5" y2="502.9"/><line x1="592.5" y1="30.5" x2="592.5" y2="33.6"/>
<line x1="611.0" y1="506.2" x2="611.0" y2="502.9"/><line x1="611.0" y1="30.5" x2="611.0" y2="33.6"/>
<line x1="627.5" y1="506.2" x2="627.5" y2="502.9"/><line x1="627.5" y1="30.5" x2="627.5" y2="33.6"/>
<line x1="734.5" y1="506.2" x2="734.5" y2="503.7"/><line x1="734.5" y1="30.5" x2="734.5" y2="32.8"/>
</g>
<line x1="79.5" y1="498.5" x2="83.3" y2="498.5"/><line x1="751.5" y1="498.5" x2="747.7" y2="498.5"/>
<line x1="79.5" y1="482.5" x2="83.3" y2="482.5"/><line x1="751.5" y1="482.5" x2="747.7" y2="482.5"/>
<line x1="79.5" y1="466.5" x2="86.2" y2="466.5"/><line x1="751.5" y1="466.5" x2="744.8" y2="466.5"/>
<line x1="79.5" y1="450.5" x2="83.3" y2="450.5"/><line x1="751.5" y1="450.5" x2="747.7" y2="450.5"/>
<line x1="79.5" y1="434.5" x2="83.3" y2="434.5"/><line x1="751.5" y1="434.5" x2="747.7" y2="434.5"/>
<line x1="79.5" y1="418.5" x2="83.3" y2="418.5"/><line x1="751.5" y1="418.5" x2="747.7" y2="418.5"/>
<line x1="79.5" y1="403.5" x2="83.3" y2="403.5"/><line x1="751.5" y1="403.5" x2="747.7" y2="403.5"/>
<line x1="79.5" y1="387.5" x2="86.2" y2="387.5"/><line x1="751.5" y1="387.5" x2="744.8" y2="387.5"/>
<line x1="79.5" y1="371.5" x2="83.3" y2="371.5"/><line x1="751.5" y1="371.5" x2="747.7" y2="371.5"/>
<line x1="79.5" y1="355.5" x2="83.3" y2="355.5"/><line x1="751.5" y1="355.5" x2="747.7" y2="355.5"/>
<line x1="79.5" y1="339.5" x2="83.3" y2="339.5"/><line x1="751.5" y1="339.5" x2="747.7" y2="339.5"/>
<line x1="79.5" y1="323.5" x2="83.3" y2="323.5"/><line x1="751.5" y1="323.5" x2="747.7" y2="323.5"/>
<line x1="79.5" y1="307.5" x2="86.2" y2="307.5"/><line x1="751.5" y1="307.5" x2="744.8" y2="307.5"/>
<line x1="79.5" y1="292.5" x2="83.3" y2="292.5"/><line x1="751.5" y1="292.5" x2="747.7" y2="292.5"/>
<line x1="79.5" y1="276.5" x2="83.3" y2="276.5"/><line x1="751.5" y1="276.5" x2="747.7" y2="276.5"/>
<line x1="79.5" y1="260.5" x2="83.3" y2="260.5"/><line x1="751.5" y1="260.5" x2="747.7" y2="260.5"/>
<line x1="79.5" y1="244.5" x2="83.3" y2="244.5"/><line x1="751.5" y1="244.5" x2="747.7" y2="244.5"/>
<line x1="79.5" y1="228.5" x2="86.2" y2="228.5"/><line x1="751.5" y1="228.5" x2="744.8" y2="228.5"/>
<line x1="79.5" y1="212.5" x2="83.3" y2="212.5"/><line x1="751.5" y1="212.5" x2="747.7" y2="212.5"/>
<line x1="79.5" y1="196.5" x2="83.3" y2="196.5"/><line x1="751.5" y1="196.5" x2="747.7" y2="196.5"/>
<line x1="79.5" y1="181.5" x2="83.3" y2="181.5"/><line x1="751.5" y1="181.5" x2="747.7" y2="181.5"/>
<line x1="79.5" y1="165.5" x2="83.3" y2="165.5"/><line x1="751.5" y1="165.5" x2="747.7" y2="165.5"/>
<line x1="79.5" y1="149.5" x2="86.2" y2="149.5"/><line x1="751.5" y1="149.5" x2="744.8" y2="149.5"/>
<line x1="79.5" y1="133.5" x2="83.3" y2="133.5"/><line x1="751.5" y1="133.5" x2="747.7" y2="133.5"/>
<line x1="79.5" y1="117.5" x2="83.3" y2="117.5"/><line x1="751.5" y1="117.5" x2="747.7" y2="117.5"/>
<line x1="79.5" y1="101.5" x2="83.3" y2="101.5"/><line x1="751.5" y1="101.5" x2="747.7" y2="101.5"/>
<line x1="79.5" y1="86.5" x2="83.3" y2="86.5"/><line x1="751.5" y1="86.5" x2="747.7" y2="86.5"/>
<line x1="79.5" y1="70.5" x2="86.2" y2="70.5"/><line x1="751.5" y1="70.5" x2="744.8" y2="70.5"/>
<line x1="79.5" y1="54.5" x2="83.3" y2="54.5"/><line x1="751.5" y1="54.5" x2="747.7" y2="54.5"/>
<line x1="79.5" y1="38.5" x2="83.3" y2="38.5"/><line x1="751.5" y1="38.5" x2="747.7" y2="38.5"/>
</g>
<g font-size="22.5" letter-spacing="1.0">
<text x="74.6" y="474.3" text-anchor="end">0.9</text>
<text x="74.6" y="395.1" text-anchor="end">1.0</text>
<text x="74.6" y="315.8" text-anchor="end">1.1</text>
<text x="74.6" y="236.6" text-anchor="end">1.2</text>
<text x="74.6" y="157.3" text-anchor="end">1.3</text>
<text x="74.6" y="78.1" text-anchor="end">1.4</text>
<text x="178.8" y="531.8" text-anchor="middle">0.030</text>
<text x="304.0" y="531.8" text-anchor="middle">0.050</text>
<text x="386.5" y="531.8" text-anchor="middle">0.070</text>
<text x="473.9" y="531.8" text-anchor="middle">0.100</text>
<text x="573.4" y="531.8" text-anchor="middle">0.150</text>
<text x="643.9" y="531.8" text-anchor="middle">0.200</text>
<text x="743.3" y="531.8" text-anchor="middle">0.300</text>
<text x="79.4" y="531.8" text-anchor="middle">0.020</text>
</g>
<text x="362.1 377 384.8 401.8 412.2 432.9 445.3 461.7" y="567.7" font-size="23.5">k[h/Mpc]</text>
<g transform="translate(29.3,306.6) rotate(-90)" font-size="23"><text x="0.2" y="0">P</text><text x="14.5" y="0">/</text><text x="26.4" y="0" font-style="italic">P</text><g transform="translate(40.45,3.3) scale(0.85,1)"><text x="0" y="0" font-size="16.9">BBKS</text></g></g>
<rect x="194.3" y="67.8" width="202.2" height="161.7" fill="#000"/>
<rect x="190.4" y="63.4" width="202" height="161.6" fill="#fff" stroke="#444" stroke-width="0.9"/>
<line x1="200.9" y1="93.55" x2="246.3" y2="93.55" stroke="#ff0000" stroke-width="3.3"/>
<line x1="200.9" y1="144.5" x2="246.8" y2="144.5" stroke="#7500ff" stroke-width="3.3" stroke-dasharray="5.1 3.05"/>
<circle cx="223" cy="195.6" r="3.75" fill="#0000ff"/>
<g font-size="19.2">
<text x="271.5 276.8 282.8 294.6 305.2 314.0" y="101.1">linear</text>
<text x="269.0 282.0 291.15 296.1 308.8 318.9 329.2 335.1 344.95" y="151.8">Zeldovich</text>
<text x="270 284.7 305.2 316.2 323.5 333.4 351.8" y="202.8">NL(raw)</text>
</g>
</svg></body></html>
